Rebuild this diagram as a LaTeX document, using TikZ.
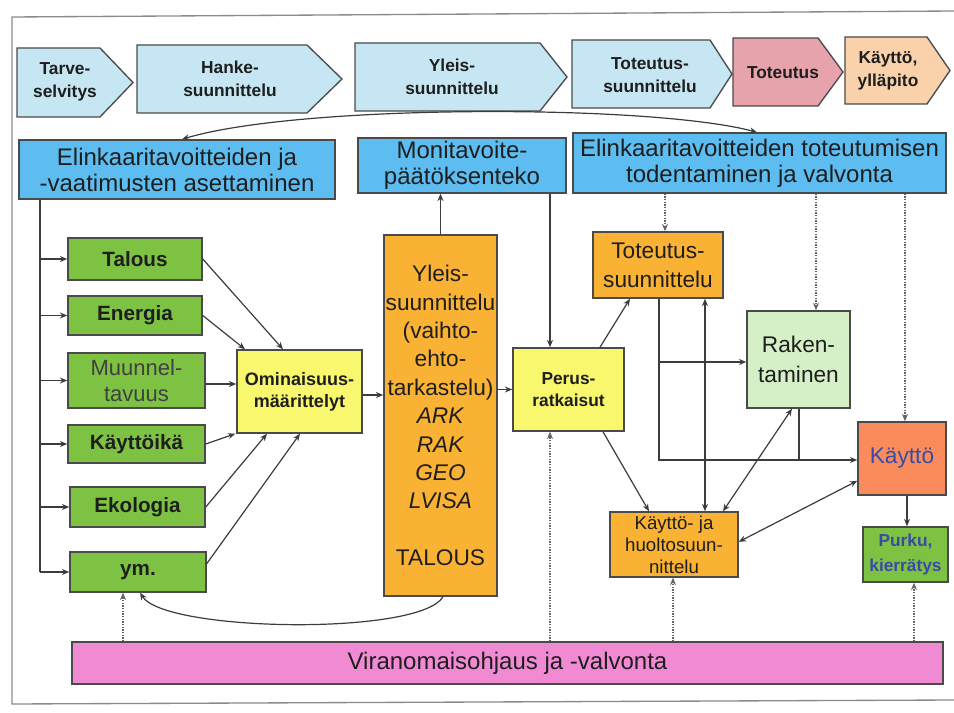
\documentclass[tikz,border=0pt]{standalone}
\usepackage{fontspec}
\setmainfont{Liberation Sans}
\usetikzlibrary{arrows.meta,calc}
\definecolor{edge}{HTML}{4A4A4A}
\definecolor{wire}{HTML}{3C3C3C}
\definecolor{ink}{HTML}{1E1E1E}
\definecolor{chevblue}{HTML}{C6E6F3}
\definecolor{chevpink}{HTML}{E6A3AC}
\definecolor{chevpeach}{HTML}{F9D2AC}
\definecolor{skyblue}{HTML}{5EBDF0}
\definecolor{leaf}{HTML}{7DC243}
\definecolor{lemon}{HTML}{F9F76E}
\definecolor{amber}{HTML}{F9B233}
\definecolor{mint}{HTML}{D5EFC6}
\definecolor{coral}{HTML}{F98B5C}
\definecolor{orchid}{HTML}{F08BD3}
\definecolor{navy}{HTML}{3A4BA3}
\definecolor{frame}{HTML}{8A8A8A}
\begin{document}
\begin{tikzpicture}[x=0.75pt,y=-0.75pt,
  box/.style={draw=edge, line width=1.1pt, inner sep=0pt, align=center, text=ink},
  area/.style n args={4}{at={({(#1+#3)/2},{(#2+#4)/2})},
    minimum width={(#3-#1)*0.75pt}, minimum height={(#4-#2)*0.75pt}},
  chev/.style={draw=edge, line width=1pt, fill=chevblue},
  chevtext/.style={align=center, text=ink, font=\fontsize{13}{17}\selectfont\bfseries},
  bluetext/.style={font=\fontsize{18}{19.5}\selectfont},
  greentext/.style={font=\fontsize{15.5}{18}\selectfont\bfseries},
  tip/.tip={Stealth[length=5.5pt,width=4.5pt]},
  conn/.style={draw=wire, line width=0.9pt, -tip},
  both/.style={draw=wire, line width=0.9pt, tip-tip},
  plain/.style={draw=wire, line width=0.9pt},
  dots/.style={draw=wire!80, line width=1pt, densely dotted, -tip}]
\useasboundingbox (0,0) rectangle (954,713);

% page frame
\draw[frame, line width=1pt] (954,11) -- (12,17) -- (12,704) -- (954,700);

% phase chevrons
\draw[chev] (17,48) -- (100,48) -- (133,82.5) -- (100,117) -- (17,117) -- cycle;
\node[chevtext] (c1) at (65,82) {Tarve-\\selvitys};
\draw[chev] (137,45) -- (307,45) -- (342,79) -- (307,113) -- (137,113) -- cycle;
\node[chevtext] (c2) at (230,79) {Hanke-\\suunnittelu};
\draw[chev] (355,43) -- (540,43) -- (567,77) -- (540,111) -- (355,111) -- cycle;
\node[chevtext] (c3) at (452,77) {Yleis-\\suunnittelu};
\draw[chev] (572,40) -- (710,40) -- (732,74) -- (710,108) -- (572,108) -- cycle;
\node[chevtext] (c4) at (650,75) {Toteutus-\\suunnittelu};
\draw[chev, fill=chevpink] (733,38) -- (818,38) -- (843,72) -- (818,106) -- (733,106) -- cycle;
\node[chevtext] (c5) at (783,73) {Toteutus};
\draw[chev, fill=chevpeach] (845,37) -- (927,37) -- (950,70.5) -- (927,104) -- (845,104) -- cycle;
\node[chevtext] (c6) at (888,71) {Käyttö,\\ylläpito};

% goal boxes
\node[box, fill=skyblue, bluetext, area={19}{140}{335}{199}] (b1) {Elinkaaritavoitteiden ja\\-vaatimusten asettaminen};
\node[box, fill=skyblue, bluetext, area={358}{138}{566}{193}] (b2) {Monitavoite-\\päätöksenteko};
\node[box, fill=skyblue, bluetext, area={573}{133}{946}{193}] (b3) {Elinkaaritavoitteiden toteutumisen\\todentaminen ja valvonta};

% criteria
\node[box, fill=leaf, greentext, area={68}{238}{202}{280}] (talous) {Talous};
\node[box, fill=leaf, greentext, area={68}{296}{202}{335}] (energia) {Energia};
\node[box, fill=leaf, text=ink!85, font=\fontsize{16.5}{19}\selectfont, area={68}{353}{205}{408}] (muunnel) {Muunnel-\\tavuus};
\node[box, fill=leaf, greentext, area={68}{425}{205}{463}] (ika) {Käyttöikä};
\node[box, fill=leaf, greentext, area={70}{487}{205}{527}] (ekologia) {Ekologia};
\node[box, fill=leaf, greentext, area={70}{552}{206}{592}] (ym) {ym.};

\node[box, fill=lemon, font=\fontsize{13.5}{16.5}\selectfont\bfseries, area={237}{350}{362}{433}] (omin) {Ominaisuus-\\määrittelyt};

\node[box, fill=amber, font=\fontsize{17}{21.3}\selectfont, area={384}{235}{497}{596}] (yleis)
  {Yleis-\\suunnittelu\\(vaihto-\\ehto-\\tarkastelu)\\\textit{ARK}\\\textit{RAK}\\\textit{GEO}\\\textit{LVISA}\\[21.3pt]TALOUS};

\node[box, fill=lemon, font=\fontsize{13}{16.5}\selectfont\bfseries, area={513}{348}{624}{431}] (perus) {Perus-\\ratkaisut};

\node[box, fill=amber, font=\fontsize{17}{22}\selectfont, area={593}{232}{723}{298}] (tots) {Toteutus-\\suunnittelu};
\node[box, fill=mint, font=\fontsize{17}{22.5}\selectfont, area={747}{311}{850}{408}] (raken) {Raken-\\taminen};
\node[box, fill=coral, text=navy, font=\fontsize{17}{20}\selectfont, area={858}{422}{946}{495}] (kaytto) {Käyttö};
\node[box, fill=leaf, text=navy, font=\fontsize{13}{19}\selectfont\bfseries, area={863}{527}{948}{582}] (purku) {Purku,\\kierrätys};
\node[box, fill=amber, font=\fontsize{14}{16.5}\selectfont, area={610}{512}{738}{577}] (khs) {Käyttö- ja\\huoltosuun-\\nittelu};

\node[box, fill=orchid, font=\fontsize{18}{20}\selectfont, area={72}{642}{943}{684}] (vir) {Viranomaisohjaus ja -valvonta};

% goal setting and verification loop
\draw[both] (182,0 |- b1.north) .. controls (300,104) and (650,104) .. (757,0 |- b3.north);

% criteria branches
\coordinate (sp) at (40,0 |- ym.west);
\draw[plain] (40,0 |- b1.south) -- (sp);
\foreach \n in {talous,energia,muunnel,ika,ekologia,ym}
  \draw[conn] (40,0 |- \n.west) -- (\n.west);

% criteria into property definitions
\draw[conn] (talous.east) -- (283,0 |- omin.north);
\draw[conn] (energia.east) -- (245,0 |- omin.north);
\draw[conn] (muunnel.east |- 0,384) -- (omin.west |- 0,384);
\draw[conn] (ika.east) -- ($(omin.south west)+(-1,0)$);
\draw[conn] (ekologia.east) -- (267,0 |- omin.south);
\draw[conn] ($(ym.north east)!0.3!(ym.south east)$) -- (300,0 |- omin.south);

% main chain
\draw[conn] (omin.east |- 0,395) -- (yleis.west |- 0,395);
\draw[conn] (yleis.north) -- (yleis.north |- b2.south);
\draw[conn] (550,0 |- b2.south) -- (550,0 |- perus.north);
\draw[conn] (yleis.east |- perus.west) -- (perus.west);
\draw[conn] ($(perus.north west)!0.78!(perus.north east)$) -- (630,0 |- tots.south);
\draw[conn] (603,0 |- perus.south) -- (649,0 |- khs.north);
\draw[conn] (443,0 |- yleis.south) .. controls (420,636) and (165,632) .. (140,0 |- ym.south);

% verification links
\draw[dots] (665,0 |- b3.south) -- (665,0 |- tots.north);
\draw[dots] (816,0 |- b3.south) -- (816,0 |- raken.north);
\draw[dots] (905,0 |- b3.south) -- (905,0 |- kaytto.north);

% implementation network
\coordinate (k1) at (659,460);
\coordinate (k2) at (799,460);
\draw[conn] (k1 |- tots.south) -- (k1) -- (k1 -| kaytto.west);
\draw[conn] (659,362) -- (659,362 -| raken.west);
\draw[plain] (k2 |- raken.south) -- (k2);
\draw[both] (705,0 |- tots.south) -- (705,0 |- khs.north);
\draw[both] (792,0 |- raken.south) -- (723,0 |- khs.north);
\draw[both] ($(kaytto.north west)!0.8!(kaytto.south west)$) -- ($(khs.north east)!0.46!(khs.south east)$);
\draw[conn] (907,0 |- kaytto.south) -- (907,0 |- purku.north);

% authority supervision
\draw[dots] (123,0 |- vir.north) -- (123,0 |- ym.south);
\draw[dots] (550,0 |- vir.north) -- (550,0 |- perus.south);
\draw[dots] (673,0 |- vir.north) -- (673,0 |- khs.south);
\draw[dots] (914,0 |- vir.north) -- (914,0 |- purku.south);
\end{tikzpicture}
\end{document}
